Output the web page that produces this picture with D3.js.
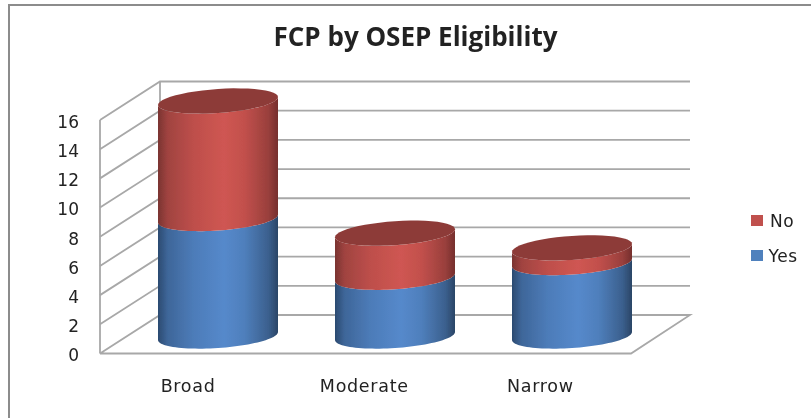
<!DOCTYPE html>
<html><head><meta charset="utf-8">
<script src="https://cdnjs.cloudflare.com/ajax/libs/d3/7.8.5/d3.min.js"></script>
<style>html,body{margin:0;padding:0;background:#fff}svg{display:block}text{fill:#222}</style>
</head><body><svg id="c" width="811" height="418"></svg>
<script>
const categories = ["Broad", "Moderate", "Narrow"];
const yesValues = [8, 4, 5];
const noValues = [8, 3, 1];
const yTicks = [0, 2, 4, 6, 8, 10, 12, 14, 16];
const titleText = "FCP by OSEP Eligibility";
const legendNames = ["No", "Yes"];

const svg = d3.select("#c");
const W = 811, H = 418;
const plot = {x0: 100, x1: 631, yTop: 120, yBase: 353.5, dx: 60, dy: 38.5};
const x = d3.scaleBand().domain(categories).range([plot.x0, plot.x1]);
const xLabel = d3.scaleBand().domain(categories).range([plot.x0, plot.x1 - 2.5]);
const y = d3.scaleLinear().domain([0, 16]).range([plot.yBase, plot.yTop]);
const barBase = 336, barPx = 235;
const yBar = d3.scaleLinear().domain([0, 16]).range([barBase, barBase - barPx]);

const defs = svg.append("defs");
function grad(id, edge, mid, edge2) {
  const g = defs.append("linearGradient").attr("id", id).attr("x1", "0").attr("x2", "1").attr("y1", "0").attr("y2", "0");
  [[0, edge], [.08, d3.interpolateRgb(edge, mid)(.45)], [.3, d3.interpolateRgb(edge, mid)(.8)], [.55, mid], [.72, d3.interpolateRgb(edge2, mid)(.85)], [.92, d3.interpolateRgb(edge2, mid)(.4)], [1, edge2]]
    .forEach(([o, c]) => g.append("stop").attr("offset", o).attr("stop-color", c));
}
grad("gRed", "#7a3431", "#cf5652", "#752f2d");
grad("gBlue", "#2b4a70", "#5589cb", "#2a4566");
const blurF = defs.append("filter").attr("id", "soft").attr("x", "-5%").attr("y", "-5%").attr("width", "110%").attr("height", "110%");
blurF.append("feGaussianBlur").attr("stdDeviation", .45);
const blurT = defs.append("filter").attr("id", "softText").attr("x", "-5%").attr("y", "-10%").attr("width", "110%").attr("height", "120%");
blurT.append("feGaussianBlur").attr("stdDeviation", .3);

// outer frame: top and left only
const frameColor = "#8c8c8c";
svg.append("path").attr("d", `M9,${H}V5H${W}`).attr("fill", "none").attr("stroke", frameColor).attr("stroke-width", 2);

// walls, grid and floor
const gridColor = "#a8a8a8";
const grid = svg.append("g").attr("fill", "none").attr("stroke", gridColor).attr("stroke-width", 1.8).attr("filter", "url(#soft)");
const bx0 = plot.x0 + plot.dx, bx1 = 690;
yTicks.filter(v => v > 0).forEach(v => {
  grid.append("path").attr("d", `M${plot.x0},${y(v)}L${bx0},${y(v) - plot.dy}L${bx1},${y(v) - plot.dy}`);
});
grid.append("path").attr("d", `M${plot.x0},${y(16)}V${y(0)}`);
grid.append("path").attr("d", `M${bx0},${y(16) - plot.dy}V${y(0) - plot.dy}`);
grid.append("path").attr("d", `M${plot.x0},${y(0)}H${plot.x1}L${bx1},${y(0) - plot.dy}H${bx0}L${plot.x0},${y(0)}`);

// cylinders
const a = 60, skew = 4, h = 12;
const line = d3.line();
const ell = (cx, cy, t) => [cx + a * Math.cos(t), cy - skew * Math.cos(t) + h * Math.sin(t)];
const arc = (cx, cy, t0, t1) => d3.range(0, 49).map(i => ell(cx, cy, t0 + (t1 - t0) * i / 48));
function body(cx, yLow, yHigh) {
  const lower = arc(cx, yLow, 0, Math.PI);
  const upper = arc(cx, yHigh, Math.PI, 0);
  return line(lower.concat(upper)) + "Z";
}
const bars = svg.append("g");
categories.forEach((c, i) => {
  const cx = x(c) + x.bandwidth() / 2 + plot.dx / 2 - .5;
  const yes = yesValues[i], no = noValues[i];
  bars.append("path").attr("d", body(cx, yBar(0), yBar(yes))).attr("fill", "url(#gBlue)").attr("filter", "url(#soft)");
  bars.append("path").attr("d", body(cx, yBar(yes), yBar(yes + no))).attr("fill", "url(#gRed)").attr("filter", "url(#soft)");
  bars.append("path").attr("d", line(arc(cx, yBar(yes + no), 0, 2 * Math.PI)) + "Z").attr("fill", "#8d3b38").attr("filter", "url(#soft)");
});

// y tick labels
svg.append("g").attr("filter", "url(#softText)").selectAll("text").data(yTicks).join("text")
  .attr("x", 79).attr("y", d => y(d) + 1.7).attr("dy", "0.36em").attr("text-anchor", "end")
  .attr("font-family", "DejaVu Sans").attr("font-size", 17).text(d => d);

// category labels
svg.append("g").attr("filter", "url(#softText)").selectAll("text").data(categories).join("text")
  .attr("x", d => xLabel(d) + xLabel.bandwidth() / 2).attr("y", 391.5).attr("text-anchor", "middle")
  .attr("font-family", "DejaVu Sans").attr("font-size", 17.5).attr("letter-spacing", 0.7).attr("fill", "#333").text(d => d);

// title
svg.append("text").attr("x", 415.5).attr("y", 45.5).attr("text-anchor", "middle").attr("filter", "url(#softText)")
  .attr("font-family", "Open Sans").attr("font-weight", 700).attr("font-size", 26).attr("fill", "#111").text(titleText);

// legend
const legendColor = d3.scaleOrdinal().domain(legendNames).range(["#c0504d", "#4f81bd"]);
const ly = d3.scalePoint().domain(legendNames).range([220.5, 255.5]);
const lg = svg.append("g").selectAll("g").data(legendNames).join("g").attr("transform", d => `translate(751,${ly(d)})`);
lg.append("rect").attr("x", 0).attr("y", -5.5).attr("width", 12).attr("height", 11).attr("fill", d => legendColor(d));
lg.append("text").attr("x", d => d === "No" ? 19 : 17.5).attr("dy", "0.36em").attr("filter", "url(#softText)").attr("font-family", "DejaVu Sans").attr("font-size", 17).attr("letter-spacing", 0.6).attr("fill", "#333").text(d => d);
</script></body></html>
